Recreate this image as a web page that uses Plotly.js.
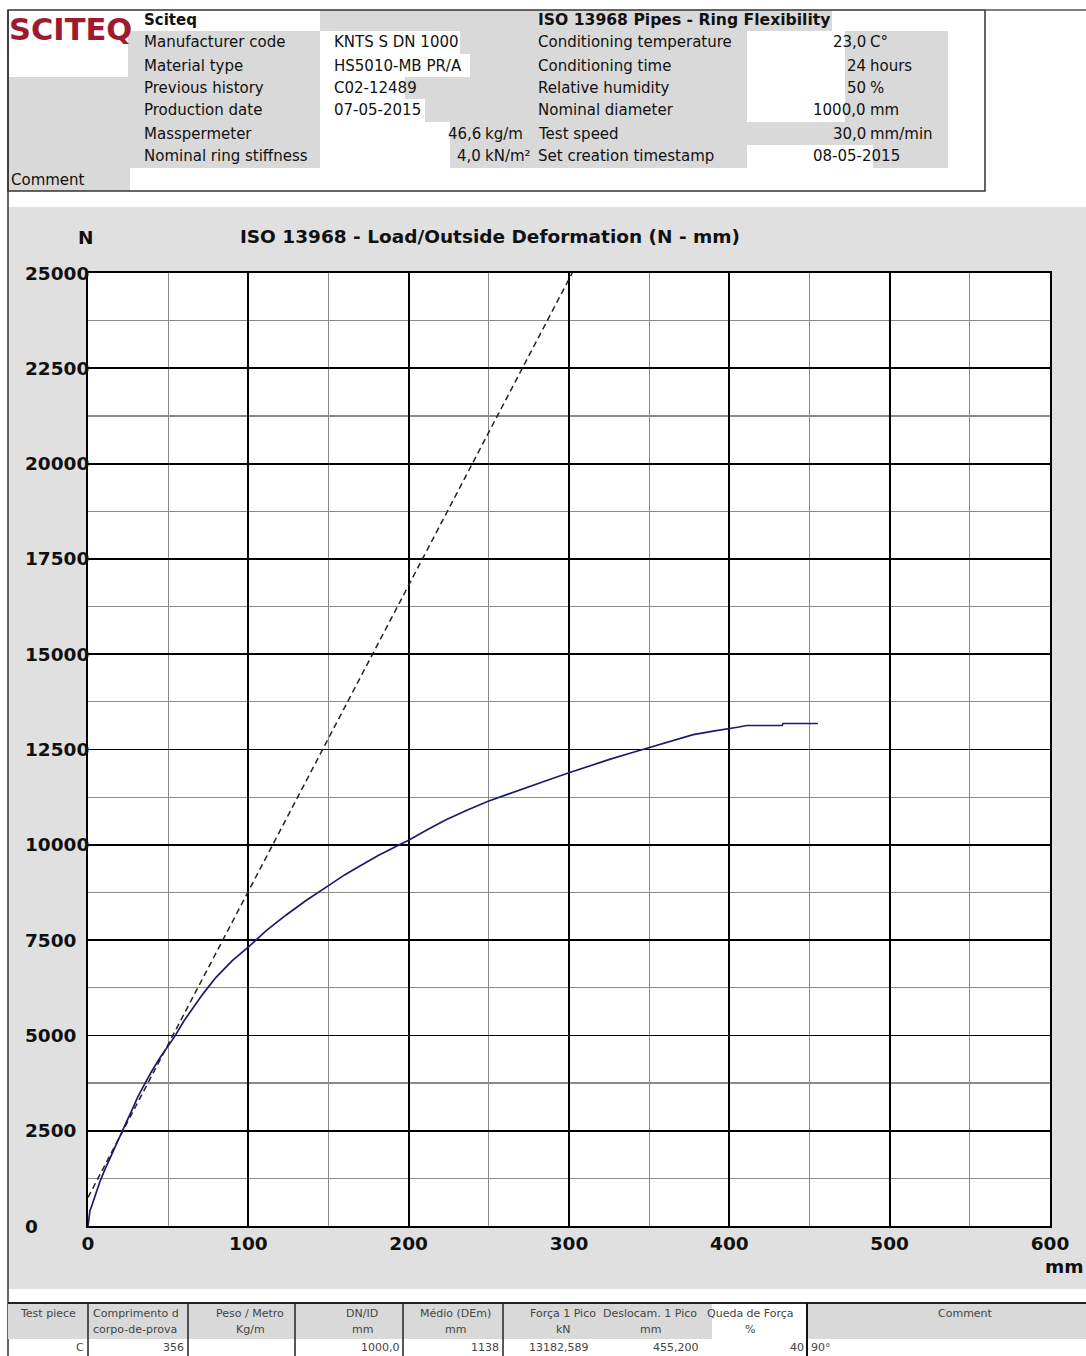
<!DOCTYPE html>
<html>
<head>
<meta charset="utf-8">
<script src="https://cdn.plot.ly/plotly-3.0.1.min.js"></script>
<style>html,body{margin:0;padding:0;background:#fff;}#chart{width:1086px;height:1356px;}</style>
</head>
<body>
<div id="chart"></div>
<script>
// ---------------- DATA ----------------
const deformX = [0, 0.6, 1.2, 2.1, 3.2, 4.3, 5.8, 7.4, 10.5, 13.7, 17.2, 20.8, 24, 27, 31, 35.3, 40, 45, 50, 54.5, 60, 66, 71.7, 80, 90, 100.3, 111, 123.6, 136, 150, 160, 169.3, 181, 194.2, 200, 211, 223.3, 237, 250, 262, 273.6, 287, 300, 312, 325.3, 338, 350, 363, 377.5, 390, 400, 406, 410.8, 422, 433, 433.5, 445, 455.2];
const loadN   = [0, 240, 400, 500, 650, 800, 990, 1160, 1480, 1780, 2130, 2450, 2730, 3000, 3380, 3720, 4080, 4420, 4730, 5000, 5390, 5760, 6090, 6530, 6960, 7330, 7740, 8160, 8540, 8930, 9210, 9440, 9720, 10000, 10120, 10380, 10660, 10920, 11150, 11330, 11510, 11700, 11890, 12060, 12240, 12400, 12550, 12720, 12890, 12980, 13040, 13090, 13130, 13130, 13130, 13182, 13182, 13182];
const tangentX = [0, 302];
const tangentY = [750, 25000];

const xTickVals = [0, 100, 200, 300, 400, 500, 600];
const xTickText = ['0', '100', '200', '300', '400', '500', '600'];
const yTickVals = [0, 2500, 5000, 7500, 10000, 12500, 15000, 17500, 20000, 22500, 25000];
const yTickText = ['0', '2500', '5000', '7500', '10000', '12500', '15000', '17500', '20000', '22500', '25000'];

const chartTitle = 'ISO 13968 - Load/Outside Deformation (N - mm)';
const yUnit = 'N';
const xUnit = 'mm';

const logoText = 'SCITEQ';
const companyName = 'Sciteq';
const testTitle = 'ISO 13968 Pipes - Ring Flexibility';
const headerLeftLabels = ['Manufacturer code', 'Material type', 'Previous history', 'Production date', 'Masspermeter', 'Nominal ring stiffness'];
const headerLeftValues = ['KNTS S DN 1000', 'HS5010-MB PR/A', 'C02-12489', '07-05-2015', '46,6', '4,0'];
const headerLeftUnits  = ['', '', '', '', 'kg/m', 'kN/m²'];
const headerRightLabels = ['Conditioning temperature', 'Conditioning time', 'Relative humidity', 'Nominal diameter', 'Test speed', 'Set creation timestamp'];
const headerRightValues = ['23,0', '24', '50', '1000,0', '30,0', '08-05-2015'];
const headerRightUnits  = ['C°', 'hours', '%', 'mm', 'mm/min', ''];
const commentLabel = 'Comment';

const tableHead1 = ['Test piece', 'Comprimento d', 'Peso / Metro', 'DN/ID', 'Médio (DEm)', 'Força 1 Pico', 'Deslocam. 1 Pico', 'Queda de Força', 'Comment'];
const tableHead2 = ['', 'corpo-de-prova', 'Kg/m', 'mm', 'mm', 'kN', 'mm', '%', ''];
const tableRow   = ['C', '356', '', '1000,0', '1138', '13182,589', '455,200', '40', '90°'];

// ---------------- LAYOUT HELPERS ----------------
const L = 88, R = 1050, T = 273, B = 1226;
const fx = x => (x - L) / (R - L);
const fy = y => (B - y) / (B - T);
const shapes = [];
const annotations = [];
function rect(x0, y0, x1, y1, fill, lc, lw) {
  shapes.push({type: 'rect', xref: 'paper', yref: 'paper', x0: fx(x0), x1: fx(x1), y0: fy(y1), y1: fy(y0),
    fillcolor: fill || 'rgba(0,0,0,0)', line: {color: lc || 'rgba(0,0,0,0)', width: lw || 0}, layer: 'below'});
}
function line(x0, y0, x1, y1, color, width) {
  shapes.push({type: 'line', xref: 'paper', yref: 'paper', x0: fx(x0), x1: fx(x1), y0: fy(y0), y1: fy(y1),
    line: {color: color, width: width}, layer: 'below'});
}
function txt(x, y, s, anchor, font) {
  annotations.push({xref: 'paper', yref: 'paper', x: fx(x), y: fy(y), text: s, showarrow: false,
    xanchor: anchor || 'left', yanchor: 'middle', borderpad: 0,
    font: Object.assign({family: 'DejaVu Sans', size: 15, color: '#111'}, font || {})});
}

const G = '#d9d9d9';
// header backgrounds
rect(128, 10, 948, 168, G);
rect(8, 77, 128, 168, G);
rect(128, 10, 320, 31, '#fff');
rect(832, 10, 948, 31, '#fff');
rect(320, 31, 460, 54, '#fff');
rect(320, 54, 470, 77, '#fff');
rect(320, 77, 405, 99, '#fff');
rect(320, 99, 425, 122, '#fff');
rect(320, 122, 450, 168, '#fff');
rect(747, 31, 845, 122, '#fff');
rect(747, 145, 873, 168, '#fff');
rect(8, 168, 130, 191, G);
rect(8, 10, 985, 191, null, '#333', 1.5);
line(985, 10, 1086, 10, '#555', 1.5);
// chart panel
rect(8, 207, 1086, 1289, '#e0e0e0');
rect(L, T, R, B, '#fff');
line(8, 10, 8, 1356, '#333', 1.5);
// bottom table
rect(8, 1304, 1086, 1339, G);
rect(712, 1304, 807, 1339, '#fff');
line(8, 1303, 1086, 1303, '#222', 2);
[88, 188, 295, 403, 503].forEach(xx => line(xx, 1303, xx, 1356, '#222', 1.5));
line(807, 1303, 807, 1356, '#111', 2);

// header text
txt(8, 29, logoText, 'left', {family: 'DejaVu Sans', size: 30.5, weight: 'bold', color: '#9e1a2f'});
txt(143, 20, companyName, 'left', {weight: 'bold'});
const rowY = [42, 66, 88, 110, 134, 156];
headerLeftLabels.forEach((s, i) => txt(143, rowY[i], s));
headerLeftValues.forEach((s, i) => {
  if (headerLeftUnits[i]) { txt(482, rowY[i], s, 'right'); txt(484, rowY[i], headerLeftUnits[i], 'left'); }
  else txt(333, rowY[i], s, 'left');
});
txt(537, 20, testTitle, 'left', {weight: 'bold', size: 15.6});
headerRightLabels.forEach((s, i) => txt(537, rowY[i], s));
headerRightValues.forEach((s, i) => {
  if (headerRightUnits[i]) { txt(867, rowY[i], s, 'right'); txt(869, rowY[i], headerRightUnits[i], 'left'); }
  else txt(812, rowY[i], s, 'left');
});
txt(10, 180, commentLabel, 'left');

// chart labels
txt(85, 237, yUnit, 'center', {size: 18.5, weight: 'bold'});
txt(1085, 1266, xUnit, 'right', {size: 18.5, weight: 'bold'});

// y tick labels, left aligned as in the reference, placed through the y scale
yTickVals.forEach((v, i) => annotations.push({xref: 'paper', yref: 'y', x: fx(24), y: v, text: yTickText[i],
  showarrow: false, xanchor: 'left', yanchor: 'middle', borderpad: 0,
  font: {family: 'DejaVu Sans', size: 18.5, weight: 'bold', color: '#111'}}));

// table text
const tf = {size: 11, color: '#444'};
const headX = [48, 92, 250, 362, 455, 563, 650, 750, 965];
const headA = ['center', 'left', 'center', 'center', 'center', 'center', 'center', 'center', 'center'];
tableHead1.forEach((s, i) => txt(headX[i], 1313, s, headA[i], tf));
tableHead2.forEach((s, i) => { if (s) txt(headX[i], 1329, s, headA[i], tf); });
const rowX = [85, 185, 290, 401, 500, 590, 700, 805, 810];
const rowA = ['right', 'right', 'right', 'right', 'right', 'right', 'right', 'right', 'left'];
tableRow.forEach((s, i) => { if (s) txt(rowX[i], 1347, s, rowA[i], tf); });

// ---------------- TRACES ----------------
const traces = [
  {x: tangentX, y: tangentY, type: 'scatter', mode: 'lines', line: {color: '#222', width: 1.5, dash: '6px,4px'}, hoverinfo: 'skip'},
  {x: deformX, y: loadN, type: 'scatter', mode: 'lines', line: {color: '#1b1b6e', width: 1.7}}
];

const axisCommon = {showline: true, mirror: true, linecolor: '#000', linewidth: 2, ticks: '', zeroline: false,
  showgrid: true, gridcolor: '#000', gridwidth: 1.8, tickmode: 'array', fixedrange: true,
  tickfont: {family: 'DejaVu Sans', size: 18.5, weight: 'bold', color: '#111'}};

const layout = {
  width: 1086, height: 1356,
  margin: {l: L, r: 1086 - R, t: T, b: 1356 - B, pad: 0},
  paper_bgcolor: '#fff', plot_bgcolor: '#fff',
  showlegend: false,
  title: {text: chartTitle, x: fx(490), xref: 'paper', xanchor: 'center', y: 1 - 237 / 1356, yref: 'container', yanchor: 'middle',
    font: {family: 'DejaVu Sans', size: 18.5, weight: 'bold', color: '#111'}},
  xaxis: Object.assign({}, axisCommon, {range: [0, 600], tickvals: xTickVals, ticktext: xTickText,
    minor: {tickmode: 'linear', tick0: 0, dtick: 50, showgrid: true, gridcolor: '#8a8a8a', gridwidth: 1.2}}),
  yaxis: Object.assign({}, axisCommon, {range: [0, 25000], tickvals: yTickVals, ticktext: yTickText, showticklabels: false,
    minor: {tickmode: 'linear', tick0: 0, dtick: 1250, showgrid: true, gridcolor: '#8a8a8a', gridwidth: 1.2}}),
  shapes: shapes,
  annotations: annotations
};

Plotly.newPlot('chart', traces, layout, {displayModeBar: false, staticPlot: true});
</script>
</body>
</html>
